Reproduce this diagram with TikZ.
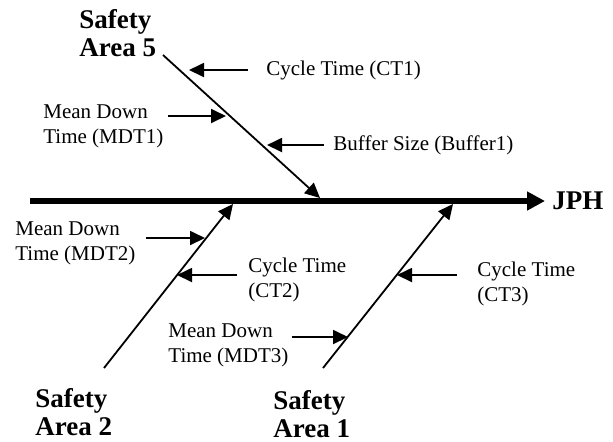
\documentclass[tikz,border=0pt]{standalone}
\usepackage{fontspec}
\setmainfont{Liberation Serif}
\usetikzlibrary{arrows.meta,positioning}

\begin{document}
\begin{tikzpicture}[
  x=0.5pt, y=-0.5pt,
  lbl/.style={inner sep=0pt, anchor=west, align=left, font=\fontsize{10.5}{12.5}\selectfont},
  area/.style={inner sep=0pt, anchor=west, align=left, font=\fontsize{13.5}{14}\selectfont\bfseries},
  spine/.style={-{Triangle[length=9pt,width=9pt]}, line width=2.8pt},
  bone/.style={-{Triangle[length=7.5pt,width=7pt]}, line width=0.9pt},
  arr/.style={-{Triangle[length=7.5pt,width=7pt]}, line width=0.9pt}
]
\useasboundingbox (0,0) rectangle (613,441);

% main spine
\coordinate (s0) at (30,201);
\node[area, inner sep=3.5pt] (jph) at (545,201) {JPH};
\draw[spine] (s0) -- (jph.west);

% bones
\node[area] (sa5) at (79,33) {Safety\\Area 5};
\node[area] (sa2) at (35,412) {Safety\\Area 2};
\node[area] (sa1) at (273,414) {Safety\\Area 1};
\coordinate (b5) at (163,55);  \coordinate (e5) at (320,198);
\coordinate (b2) at (104,368); \coordinate (e2) at (233,204);
\coordinate (b1) at (323,368); \coordinate (e1) at (453,204);
\draw[bone] (b5) -- (e5);
\draw[bone] (b2) -- (e2);
\draw[bone] (b1) -- (e1);

% causes on area 5
\coordinate (t1) at (189,70);
\coordinate (m1) at (226,116);
\coordinate (u1) at (267,145);
\node[lbl] (ct1) at (266,70) {Cycle Time (CT1)};
\node[lbl] (mdt1) at (43,126) {Mean Down\\Time (MDT1)};
\node[lbl] (buf1) at (333,145) {Buffer Size (Buffer1)};
\draw[arr] ([xshift=-9pt]ct1.west |- t1) -- (t1);
\draw[arr] ([xshift=2pt]mdt1.east |- m1) -- (m1);
\draw[arr] ([xshift=-4.5pt]buf1.west |- u1) -- (u1);

% causes on area 2
\coordinate (m2) at (205,238);
\coordinate (c2) at (177,275);
\node[lbl] (mdt2) at (15,243) {Mean Down\\Time (MDT2)};
\node[lbl] (ct2) at (248,280) {Cycle Time\\(CT2)};
\draw[arr] ([xshift=5pt]mdt2.east |- m2) -- (m2);
\draw[arr] ([xshift=-5.5pt]ct2.west |- c2) -- (c2);

% causes on area 1
\coordinate (c3) at (397,275);
\coordinate (m3) at (348,337);
\node[lbl] (ct3) at (477,284) {Cycle Time\\(CT3)};
\node[lbl] (mdt3) at (168,345) {Mean Down\\Time (MDT3)};
\draw[arr] ([xshift=-10pt]ct3.west |- c3) -- (c3);
\draw[arr] ([xshift=1.5pt]mdt3.east |- m3) -- (m3);
\end{tikzpicture}
\end{document}
